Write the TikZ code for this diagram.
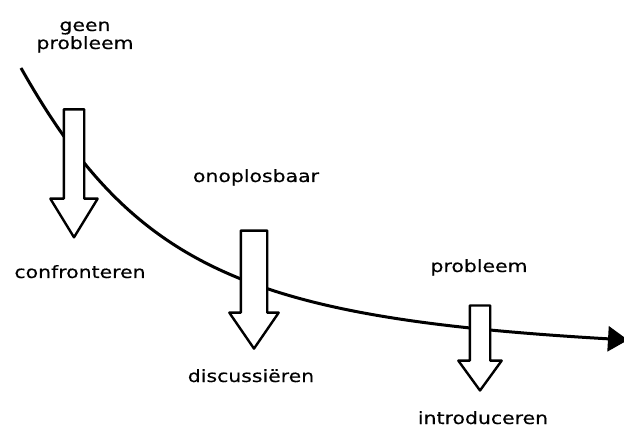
\documentclass[tikz,border=0pt]{standalone}
\usepackage{fontspec}
\setmainfont{DejaVu Sans}[FakeStretch=1.2, FakeBold=0.4]
\usetikzlibrary{shapes.arrows, arrows.meta, positioning}

\tikzset{
    downarrow/.style={single arrow, draw, fill=white, line width=2.4pt, line join=round,
        rotate=-90, inner xsep=0pt, outer sep=0pt},
    phase/.style={anchor=base, inner sep=0pt, font=\fontsize{17}{18}\selectfont}
}

\begin{document}
\begin{tikzpicture}[x=1pt, y=-1pt]
    \useasboundingbox (0,0) rectangle (624,430);
    % curve
    \coordinate (begin) at (21,68);
    \coordinate (end) at (628,340);
    \draw[line width=3pt, -{Triangle[length=20pt,width=25pt]}] (begin) .. controls (135,270) and (250,318) .. (end);
    % block arrows
    \node[downarrow, minimum height=128pt, inner ysep=9pt, single arrow head extend=13.5pt, single arrow tip angle=63] (confront) at (74,165) {};
    \node[downarrow, minimum height=118pt, inner ysep=12pt, single arrow head extend=11.5pt, single arrow tip angle=69] (discuss) at (254,280) {};
    \node[downarrow, minimum height=85pt, inner ysep=9pt, single arrow head extend=11.5pt, single arrow tip angle=72] (intro) at (480,341) {};
    % labels
    \node[phase] (geen) at (85,31) {geen};
    \node[phase] (probl1) at (85,49) {probleem};
    \node[phase] (confronteren) at (80,278) {confronteren};
    \node[phase] (onoplosbaar) at (256,182) {onoplosbaar};
    \node[phase] (discussieren) at (251,382) {discussiëren};
    \node[phase] (probl2) at (479,272) {probleem};
    \node[phase] (introduceren) at (483,424) {introduceren};
\end{tikzpicture}
\end{document}
